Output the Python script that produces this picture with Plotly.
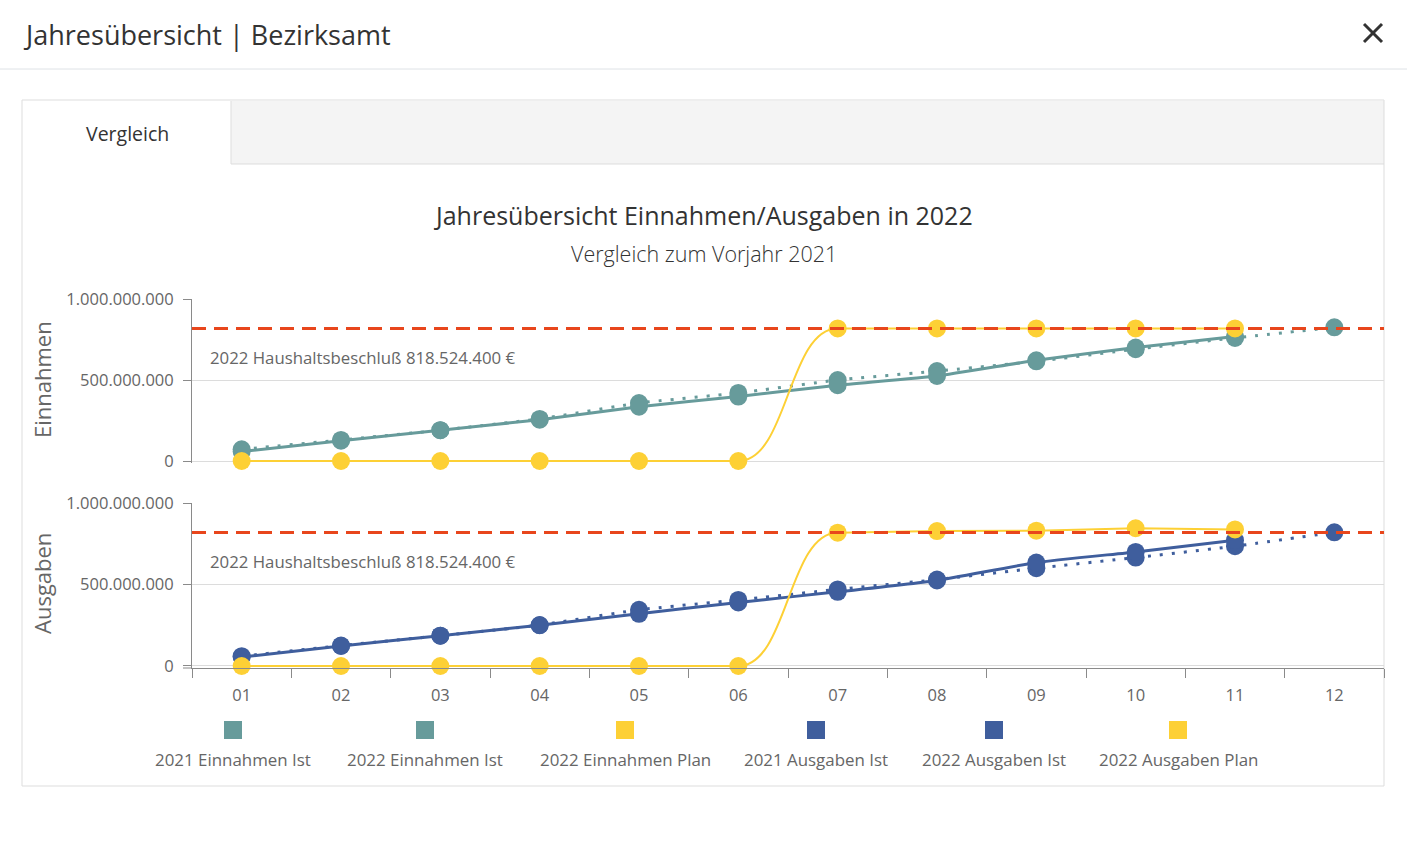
import plotly.graph_objects as go

# ---------------- data ----------------
months = ["01", "02", "03", "04", "05", "06", "07", "08", "09", "10", "11", "12"]

einnahmen_ist_2021 = [72e6, 130e6, 190e6, 260e6, 358e6, 420e6, 500e6, 555e6, 615e6, 690e6, 760e6, 825e6]
einnahmen_ist_2022 = [58e6, 125e6, 190e6, 255e6, 335e6, 398e6, 468e6, 525e6, 622e6, 700e6, 768e6]
einnahmen_plan_2022 = [0, 0, 0, 0, 0, 0, 818e6, 818e6, 818e6, 818e6, 818e6]

ausgaben_ist_2021 = [60e6, 125e6, 186e6, 251e6, 345e6, 405e6, 470e6, 530e6, 600e6, 665e6, 735e6, 820e6]
ausgaben_ist_2022 = [55e6, 123e6, 186e6, 250e6, 320e6, 390e6, 455e6, 525e6, 635e6, 700e6, 772e6]
ausgaben_plan_2022 = [0, 0, 0, 0, 0, 0, 818e6, 828e6, 830e6, 845e6, 838e6]

haushaltsbeschluss = 818524400
haushalt_label = "2022 Haushaltsbeschluß 818.524.400 €"

y_tickvals = [0, 500000000, 1000000000]
y_ticktext = ["0", "500.000.000", "1.000.000.000"]

legend_labels = ["2021 Einnahmen Ist", "2022 Einnahmen Ist", "2022 Einnahmen Plan",
                 "2021 Ausgaben Ist", "2022 Ausgaben Ist", "2022 Ausgaben Plan"]

header_title = "Jahresübersicht | Bezirksamt"
tab_label = "Vergleich"
chart_title = "Jahresübersicht Einnahmen/Ausgaben in 2022"
chart_subtitle = "Vergleich zum Vorjahr 2021"

# ---------------- styles ----------------
W, H = 1407, 843
FONT = "Open Sans"
TEAL = "#679b9b"
BLUE = "#3f5e9d"
YELLOW = "#fdd035"
RED = "#e8461c"
TXT = "#333333"
GREY_TXT = "#666666"
AXIS = "#8a8a8a"
GRID = "#dcdcdc"


def px(x):
    return x / W


def py(y):
    return 1 - y / H


PLOT_L, PLOT_R = 192, 1384
TOP_T, TOP_B = 299, 461
BOT_T, BOT_B = 503, 666
EXT = 2  # px the plot area reaches below zero so the zero lines are not clipped
Y_LOW = -EXT / (TOP_B - TOP_T) * 1e9

fig = go.Figure()
shapes = []


def add_ist(x, y, color, xa, ya, dash):
    fig.add_trace(go.Scatter(
        x=x, y=y, xaxis=xa, yaxis=ya, mode="lines+markers",
        line=dict(color=color, width=3, dash=dash, shape="spline", smoothing=0.4),
        marker=dict(color=color, size=18, line=dict(width=0)),
        showlegend=False, cliponaxis=False, hoverinfo="x+y",
    ))


def add_plan(x, y, xa, ya):
    # flat parts as straight lines, the jump as a smooth S-curve (horizontal tangents)
    k = next(i for i, v in enumerate(y) if v > 0)
    for seg_x, seg_y in ((x[:k], y[:k]), (x[k:], y[k:])):
        fig.add_trace(go.Scatter(x=seg_x, y=seg_y, xaxis=xa, yaxis=ya, mode="lines",
                                 line=dict(color=YELLOW, width=2), showlegend=False, hoverinfo="skip"))
    shapes.append(dict(
        type="path", xref=xa, yref=ya, layer="above",
        path=f"M {k - 1},{y[k - 1]} C {k - 0.5},{y[k - 1]} {k - 0.5},{y[k]} {k},{y[k]}",
        line=dict(color=YELLOW, width=2),
    ))
    fig.add_trace(go.Scatter(x=x, y=y, xaxis=xa, yaxis=ya, mode="markers",
                             marker=dict(color=YELLOW, size=18, line=dict(width=0)),
                             showlegend=False, cliponaxis=False, hoverinfo="x+y"))


# top subplot: Einnahmen
add_ist(months, einnahmen_ist_2021, TEAL, "x", "y", "3px,9px")
add_ist(months[:len(einnahmen_ist_2022)], einnahmen_ist_2022, TEAL, "x", "y", "solid")
add_plan(months[:len(einnahmen_plan_2022)], einnahmen_plan_2022, "x", "y")
# bottom subplot: Ausgaben
add_ist(months, ausgaben_ist_2021, BLUE, "x2", "y2", "3px,9px")
add_ist(months[:len(ausgaben_ist_2022)], ausgaben_ist_2022, BLUE, "x2", "y2", "solid")
add_plan(months[:len(ausgaben_plan_2022)], ausgaben_plan_2022, "x2", "y2")

yaxis_common = dict(
    range=[Y_LOW, 1e9], tickmode="array", tickvals=y_tickvals, ticktext=y_ticktext,
    showline=True, linecolor=AXIS, linewidth=1, ticks="outside", ticklen=8, tickcolor=AXIS,
    showgrid=True, gridcolor=GRID, gridwidth=1, zeroline=False, automargin=False,
    tickfont=dict(family=FONT, size=16.5, color=GREY_TXT), ticklabelstandoff=6,
    fixedrange=True,
)

fig.update_layout(
    width=W, height=H, autosize=False,
    margin=dict(l=0, r=0, t=0, b=0, pad=0, autoexpand=False),
    paper_bgcolor="white", plot_bgcolor="white",
    font=dict(family=FONT, color=TXT),
    showlegend=False,
    xaxis=dict(domain=[px(PLOT_L), px(PLOT_R)], anchor="y", type="category",
               categoryorder="array", categoryarray=months, range=[-0.5, 11.5], automargin=False,
               showticklabels=False, ticks="", showline=False, showgrid=False, zeroline=False),
    yaxis=dict(domain=[py(TOP_B + EXT), py(TOP_T)], anchor="x", **yaxis_common),
    xaxis2=dict(domain=[px(PLOT_L), px(PLOT_R)], anchor="y2", type="category",
                categoryorder="array", categoryarray=months, range=[-0.5, 11.5], automargin=False,
                showline=True, linecolor=AXIS, linewidth=1, ticks="outside", tickson="boundaries",
                ticklen=9, tickcolor=AXIS, showgrid=False, zeroline=False,
                tickfont=dict(family=FONT, size=16.5, color=GREY_TXT), ticklabelstandoff=12),
    yaxis2=dict(domain=[py(BOT_B + EXT), py(BOT_T)], anchor="x2", **yaxis_common),
)

# page chrome
shapes.append(dict(type="line", xref="paper", yref="paper", x0=0, x1=1, y0=py(69), y1=py(69),
                   line=dict(color="#dee2e6", width=1), layer="below"))
shapes.append(dict(type="rect", xref="paper", yref="paper", x0=px(231), x1=px(1384), y0=py(164), y1=py(101),
                   fillcolor="#f4f4f4", line=dict(width=0), layer="below"))
shapes.append(dict(type="line", xref="paper", yref="paper", x0=px(231), x1=px(231), y0=py(164), y1=py(101),
                   line=dict(color="#dddddd", width=1), layer="below"))
shapes.append(dict(type="line", xref="paper", yref="paper", x0=px(231), x1=px(1384), y0=py(164), y1=py(164),
                   line=dict(color="#dddddd", width=1), layer="below"))
shapes.append(dict(type="rect", xref="paper", yref="paper", x0=px(22), x1=px(1384), y0=py(786), y1=py(100),
                   fillcolor="rgba(0,0,0,0)", line=dict(color="#dddddd", width=1), layer="below"))
# short extension of the bottom axis line to the left of the y axis
shapes.append(dict(type="line", xref="paper", yref="paper", x0=px(183), x1=px(PLOT_L), y0=py(BOT_B + EXT),
                   y1=py(BOT_B + EXT), line=dict(color=AXIS, width=1), layer="below"))
# close icon
shapes.append(dict(type="line", xref="paper", yref="paper", x0=px(1364), x1=px(1382), y0=py(24), y1=py(42),
                   line=dict(color=TXT, width=3)))
shapes.append(dict(type="line", xref="paper", yref="paper", x0=px(1364), x1=px(1382), y0=py(42), y1=py(24),
                   line=dict(color=TXT, width=3)))
# budget lines
for yref in ["y", "y2"]:
    shapes.append(dict(type="line", xref="paper", yref=yref, x0=px(PLOT_L), x1=px(PLOT_R),
                       y0=haushaltsbeschluss, y1=haushaltsbeschluss,
                       line=dict(color=RED, width=3, dash="14px,8px"), layer="above"))

# legend squares
legend_colors = [TEAL, TEAL, YELLOW, BLUE, BLUE, YELLOW]
legend_x = [233, 425, 625, 816, 994, 1178]
for cx, col in zip(legend_x, legend_colors):
    shapes.append(dict(type="rect", xref="paper", yref="paper", x0=px(cx - 9), x1=px(cx + 9),
                       y0=py(739), y1=py(721), fillcolor=col, line=dict(width=0)))

annotations = [
    dict(text=header_title, x=px(21), y=py(35), xref="paper", yref="paper", xanchor="left", yanchor="middle",
         showarrow=False, font=dict(family=FONT, size=27, color=TXT)),
    dict(text=tab_label, x=px(127), y=py(134), xref="paper", yref="paper", xanchor="center", yanchor="middle",
         showarrow=False, font=dict(family=FONT, size=19.5, color=TXT)),
    dict(text=chart_title, x=px(703), y=py(215), xref="paper", yref="paper", xanchor="center", yanchor="middle",
         showarrow=False, font=dict(family=FONT, size=25, color=TXT)),
    dict(text=chart_subtitle, x=px(704), y=py(253), xref="paper", yref="paper", xanchor="center", yanchor="middle",
         showarrow=False, font=dict(family=FONT, size=21.5, color=TXT, weight=300)),
    dict(text="Einnahmen", x=px(42), y=py(380), xref="paper", yref="paper", xanchor="center", yanchor="middle",
         textangle=-90, showarrow=False, font=dict(family=FONT, size=22, color=GREY_TXT)),
    dict(text="Ausgaben", x=px(42), y=py(584), xref="paper", yref="paper", xanchor="center", yanchor="middle",
         textangle=-90, showarrow=False, font=dict(family=FONT, size=22, color=GREY_TXT)),
]
for yref in ["y", "y2"]:
    annotations.append(dict(text=haushalt_label, x=px(208), y=haushaltsbeschluss, xref="paper", yref=yref,
                            xanchor="left", yanchor="middle", yshift=-29, showarrow=False,
                            font=dict(family=FONT, size=16.8, color=GREY_TXT)))
for cx, lab in zip(legend_x, legend_labels):
    annotations.append(dict(text=lab, x=px(cx), y=py(759), xref="paper", yref="paper",
                            xanchor="center", yanchor="middle", showarrow=False,
                            font=dict(family=FONT, size=16.9, color=GREY_TXT)))

fig.update_layout(shapes=shapes, annotations=annotations)

fig.write_html("out.html", config={"displayModeBar": False},
               post_script="document.body.style.margin='0';document.body.style.overflow='hidden';")
